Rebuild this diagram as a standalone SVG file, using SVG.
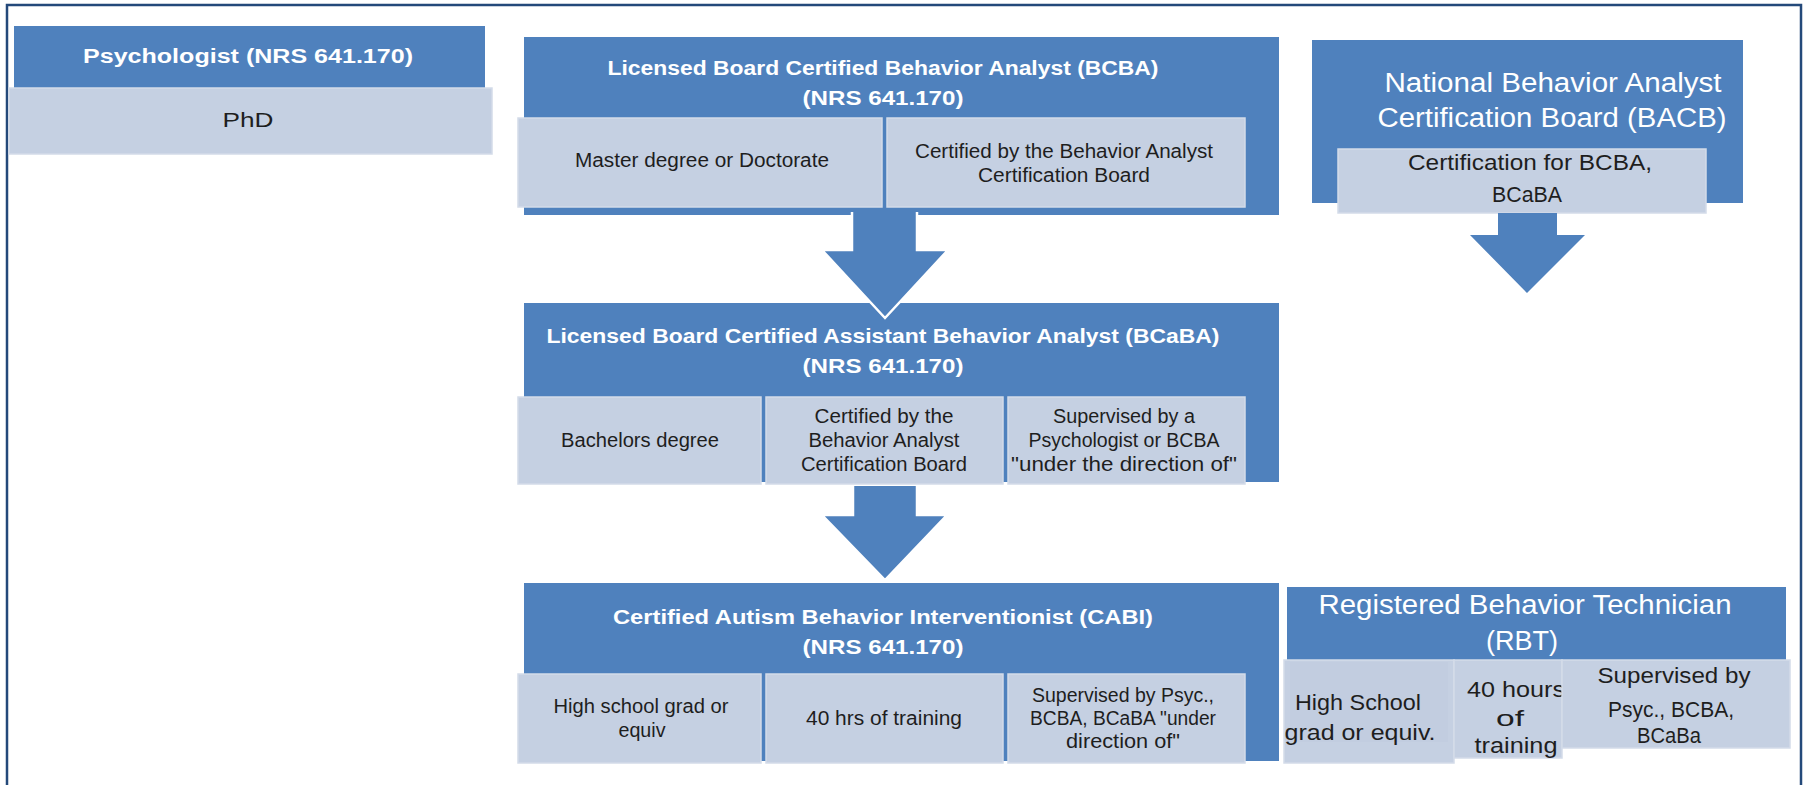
<svg xmlns="http://www.w3.org/2000/svg" width="1803" height="785" viewBox="0 0 1803 785">
<style>
.hdr{fill:#4F81BD}
.cell{fill:#C5D0E2;stroke:#D3DBE9;stroke-width:1.5}
.ht{font-family:"Liberation Sans",Arial,sans-serif;font-weight:bold;fill:#FFFFFF;text-anchor:middle;font-size:20px}
.hl{font-family:"Liberation Sans",Arial,sans-serif;fill:#FFFFFF;text-anchor:middle;font-size:27px}
.ct{font-family:"Liberation Sans",Arial,sans-serif;fill:#1E1E1E;text-anchor:middle;font-size:20px}
.cl{font-family:"Liberation Sans",Arial,sans-serif;fill:#1E1E1E;text-anchor:middle;font-size:22px}
.arrow{fill:#4F81BD}
.arrowW{fill:#4F81BD;stroke:#FFFFFF;stroke-width:2.5;stroke-linejoin:miter}
</style>
<rect x="0" y="0" width="1803" height="785" fill="#FFFFFF"/>
<path d="M7,785 V5 H1801 V785" fill="none" stroke="#24497A" stroke-width="2.5"/>

<g id="psychologist">
<rect class="hdr" x="14" y="26" width="471" height="62"/>
<rect class="cell" x="9" y="88" width="483" height="66"/>
<text class="ht" x="248" y="63" font-size="24" textLength="330" lengthAdjust="spacingAndGlyphs">Psychologist (NRS 641.170)</text>
<text class="ct" x="248" y="127" font-size="24" textLength="51" lengthAdjust="spacingAndGlyphs">PhD</text>
</g>

<g id="bacb">
<rect class="hdr" x="1312" y="40" width="431" height="163"/>
<text class="hl" x="1553" y="92" textLength="337" lengthAdjust="spacingAndGlyphs">National Behavior Analyst</text>
<text class="hl" x="1552" y="127" textLength="349" lengthAdjust="spacingAndGlyphs">Certification Board (BACB)</text>
<rect class="cell" x="1338" y="149" width="368" height="64"/>
<text class="cl" x="1530" y="170" textLength="244" lengthAdjust="spacingAndGlyphs">Certification for BCBA,</text>
<text class="cl" x="1527" y="202" textLength="70" lengthAdjust="spacingAndGlyphs">BCaBA</text>
</g>

<g id="bcba">
<rect class="hdr" x="524" y="37" width="755" height="178"/>
<text class="ht" x="883" y="75" textLength="551" lengthAdjust="spacingAndGlyphs">Licensed Board Certified Behavior Analyst (BCBA)</text>
<text class="ht" x="883" y="105" textLength="161" lengthAdjust="spacingAndGlyphs">(NRS 641.170)</text>
<rect class="cell" x="518" y="118" width="364" height="89"/>
<rect class="cell" x="887" y="118" width="358" height="89"/>
<text class="ct" x="702" y="167" textLength="254" lengthAdjust="spacingAndGlyphs">Master degree or Doctorate</text>
<text class="ct" x="1064" y="158" textLength="298" lengthAdjust="spacingAndGlyphs">Certified by the Behavior Analyst</text>
<text class="ct" x="1064" y="182" textLength="172" lengthAdjust="spacingAndGlyphs">Certification Board</text>
</g>

<g id="bcaba">
<rect class="hdr" x="524" y="303" width="755" height="179"/>
<text class="ht" x="883" y="343" textLength="673" lengthAdjust="spacingAndGlyphs">Licensed Board Certified Assistant Behavior Analyst (BCaBA)</text>
<text class="ht" x="883" y="373" textLength="161" lengthAdjust="spacingAndGlyphs">(NRS 641.170)</text>
<rect class="cell" x="518" y="397" width="243" height="87"/>
<rect class="cell" x="766" y="397" width="237" height="87"/>
<rect class="cell" x="1008" y="397" width="237" height="87"/>
<text class="ct" x="640" y="447" textLength="158" lengthAdjust="spacingAndGlyphs">Bachelors degree</text>
<text class="ct" x="884" y="423" textLength="139" lengthAdjust="spacingAndGlyphs">Certified by the</text>
<text class="ct" x="884" y="447" textLength="151" lengthAdjust="spacingAndGlyphs">Behavior Analyst</text>
<text class="ct" x="884" y="471" textLength="166" lengthAdjust="spacingAndGlyphs">Certification Board</text>
<text class="ct" x="1124" y="423" textLength="142" lengthAdjust="spacingAndGlyphs">Supervised by a</text>
<text class="ct" x="1124" y="447" textLength="191" lengthAdjust="spacingAndGlyphs">Psychologist or BCBA</text>
<text class="ct" x="1124" y="471" textLength="226" lengthAdjust="spacingAndGlyphs">"under the direction of"</text>
</g>

<g id="cabi">
<rect class="hdr" x="524" y="583" width="755" height="178"/>
<text class="ht" x="883" y="624" textLength="540" lengthAdjust="spacingAndGlyphs">Certified Autism Behavior Interventionist (CABI)</text>
<text class="ht" x="883" y="654" textLength="161" lengthAdjust="spacingAndGlyphs">(NRS 641.170)</text>
<rect class="cell" x="518" y="674" width="243" height="89"/>
<rect class="cell" x="766" y="674" width="237" height="89"/>
<rect class="cell" x="1008" y="674" width="237" height="89"/>
<text class="ct" x="641" y="713" textLength="175" lengthAdjust="spacingAndGlyphs">High school grad or</text>
<text class="ct" x="642" y="737" textLength="47" lengthAdjust="spacingAndGlyphs">equiv</text>
<text class="ct" x="884" y="725" textLength="156" lengthAdjust="spacingAndGlyphs">40 hrs of training</text>
<text class="ct" x="1123" y="702" textLength="182" lengthAdjust="spacingAndGlyphs">Supervised by Psyc.,</text>
<text class="ct" x="1123" y="725" textLength="186" lengthAdjust="spacingAndGlyphs">BCBA, BCaBA "under</text>
<text class="ct" x="1123" y="748" textLength="114" lengthAdjust="spacingAndGlyphs">direction of"</text>
</g>

<g id="rbt">
<rect class="hdr" x="1287" y="587" width="499" height="73"/>
<text class="hl" x="1525" y="614" textLength="413" lengthAdjust="spacingAndGlyphs">Registered Behavior Technician</text>
<text class="hl" x="1522" y="650" textLength="72" lengthAdjust="spacingAndGlyphs">(RBT)</text>
<rect class="cell" x="1284" y="660" width="170" height="103"/>
<rect x="1290" y="662" width="158" height="80" fill="#C2CDE0"/>
<text class="cl" x="1358" y="710" textLength="126" lengthAdjust="spacingAndGlyphs">High School</text>
<text class="cl" x="1360" y="740" textLength="151" lengthAdjust="spacingAndGlyphs">grad or equiv.</text>
<rect class="cell" x="1454" y="660" width="108" height="98"/>
<text class="cl" x="1516" y="697" textLength="98" lengthAdjust="spacingAndGlyphs">40 hours</text>
<text class="cl" x="1510" y="726" textLength="28" lengthAdjust="spacingAndGlyphs">of</text>
<text class="cl" x="1516" y="753" textLength="83" lengthAdjust="spacingAndGlyphs">training</text>
<rect class="cell" x="1562" y="660" width="228" height="88"/>
<text class="cl" x="1674" y="683" textLength="153" lengthAdjust="spacingAndGlyphs">Supervised by</text>
<text class="cl" x="1671" y="717" textLength="126" lengthAdjust="spacingAndGlyphs">Psyc., BCBA,</text>
<text class="cl" x="1669" y="743" textLength="64" lengthAdjust="spacingAndGlyphs">BCaBa</text>
</g>

<g id="connectors">
<path class="arrowW" d="M852,212 V250 H822 L885,318 L948,250 H917 V212"/>
<path class="arrowW" d="M853,486 V515 H822 L885,580 L947,515 H917 V486"/>
<path class="arrow" d="M1498,213 V235 H1470 L1527,293 L1585,235 H1557 V213 Z"/>
</g>
</svg>
